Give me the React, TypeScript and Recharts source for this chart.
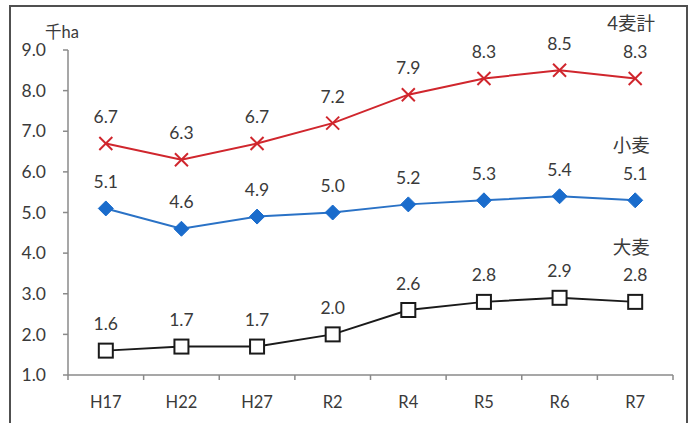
import React from 'react';
import { LineChart, Line, XAxis, YAxis, LabelList } from 'recharts';

const categories = ['H17', 'H22', 'H27', 'R2', 'R4', 'R5', 'R6', 'R7'];
const totalValues = [6.7, 6.3, 6.7, 7.2, 7.9, 8.3, 8.5, 8.3];
const wheatValues = [5.1, 4.6, 4.9, 5.0, 5.2, 5.3, 5.4, 5.3];
const wheatLabels = ['5.1', '4.6', '4.9', '5.0', '5.2', '5.3', '5.4', '5.1'];
const barleyValues = [1.6, 1.7, 1.7, 2.0, 2.6, 2.8, 2.9, 2.8];
const yTicks = [1, 2, 3, 4, 5, 6, 7, 8, 9];
const seriesNames = { total: '4麦計', wheat: '小麦', barley: '大麦' };
const unitLabel = '千ha';

const data = categories.map((c, i) => ({
  cat: c,
  total: totalValues[i],
  wheat: wheatValues[i],
  barley: barleyValues[i],
}));

const FONT = "Lato, 'Noto Sans CJK JP', sans-serif";
const TEXT = '#3a3a3a';
const RED = '#d0262d';
const BLUE = '#2a72c6';
const BLUE_MARK = '#1a6ccc';
const BLACK = '#1a1a1a';
const AXIS = '#8a8a8a';

const makeLabel = (name: string, texts?: string[]) => (props: any) => {
  const { x, y, value, index } = props;
  const last = index === categories.length - 1;
  const txt = texts ? texts[index] : Number(value).toFixed(1);
  return (
    <g>
      <text x={x} y={y - 27} textAnchor="middle" dominantBaseline="central" fontSize={17.5} fontFamily={FONT} fill={TEXT}>
        {txt}
      </text>
      {last && (
        <text x={x - 4} y={y - 55} textAnchor="middle" dominantBaseline="central" fontSize={18.5} fontFamily={FONT} fill={TEXT}>
          {name}
        </text>
      )}
    </g>
  );
};

const CrossDot = (props: any) => {
  const { cx, cy } = props;
  if (cx == null || cy == null) return null;
  const s = 6.5;
  return (
    <g>
      <line x1={cx - s} y1={cy - s} x2={cx + s} y2={cy + s} stroke={RED} strokeWidth={2} />
      <line x1={cx - s} y1={cy + s} x2={cx + s} y2={cy - s} stroke={RED} strokeWidth={2} />
    </g>
  );
};

const DiamondDot = (props: any) => {
  const { cx, cy } = props;
  if (cx == null || cy == null) return null;
  const s = 7.5;
  return <polygon points={`${cx},${cy - s} ${cx + s},${cy} ${cx},${cy + s} ${cx - s},${cy}`} fill={BLUE_MARK} stroke={BLUE_MARK} strokeWidth={1} />;
};

const SquareDot = (props: any) => {
  const { cx, cy } = props;
  if (cx == null || cy == null) return null;
  const s = 7;
  return <rect x={cx - s} y={cy - s} width={2 * s} height={2 * s} fill="#ffffff" stroke={BLACK} strokeWidth={2} />;
};

const XTick = (props: any) => {
  const { x, y, payload, index, width, visibleTicksCount } = props;
  const count = visibleTicksCount || categories.length;
  const bw = (width || 605) / count;
  const left = x - bw / 2;
  return (
    <g>
      <line x1={left} y1={y} x2={left} y2={y + 5} stroke={AXIS} strokeWidth={1.5} />
      {index === count - 1 && <line x1={x + bw / 2} y1={y} x2={x + bw / 2} y2={y + 5} stroke={AXIS} strokeWidth={1.5} />}
      <text x={x} y={y + 27} textAnchor="middle" dominantBaseline="central" fontSize={16.5} fontFamily={FONT} fill={TEXT}>
        {payload.value}
      </text>
    </g>
  );
};

export default function App() {
  return (
    <div style={{ position: 'absolute', left: 0, top: 0, width: 688, height: 423, overflow: 'hidden', background: '#fff' }}>
      <div style={{ position: 'absolute', left: 9, top: 5, width: 675, height: 440, border: '2px solid #505050' }} />
      <div style={{ position: 'absolute', left: 45, top: 21, fontFamily: FONT, fontSize: 16.5, color: TEXT, lineHeight: '22px' }}>
        {unitLabel}
      </div>
      <div style={{ position: 'absolute', left: 0, top: 0 }}>
        <LineChart width={688} height={423} data={data} margin={{ top: 50, right: 15, left: 0, bottom: 0 }}>
          <XAxis
            dataKey="cat"
            scale="band"
            height={48}
            axisLine={{ stroke: AXIS, strokeWidth: 1.5 }}
            tickLine={false}
            tickSize={0}
            tickMargin={0}
            tick={<XTick />}
            interval={0}
          />
          <YAxis
            width={68}
            domain={[1, 9]}
            ticks={yTicks}
            allowDataOverflow
            axisLine={{ stroke: AXIS, strokeWidth: 1.5 }}
            tickLine={{ stroke: AXIS, strokeWidth: 1.5 }}
            tickSize={5}
            tickMargin={17}
            tickFormatter={(v: number) => v.toFixed(1)}
            tick={{ fontSize: 17.5, fontFamily: FONT, fill: TEXT }}
          />
          <Line type="linear" dataKey="total" stroke={RED} strokeWidth={2} dot={<CrossDot />} activeDot={false} isAnimationActive={false}>
            <LabelList dataKey="total" content={makeLabel(seriesNames.total)} />
          </Line>
          <Line type="linear" dataKey="wheat" stroke={BLUE} strokeWidth={2} dot={<DiamondDot />} activeDot={false} isAnimationActive={false}>
            <LabelList dataKey="wheat" content={makeLabel(seriesNames.wheat, wheatLabels)} />
          </Line>
          <Line type="linear" dataKey="barley" stroke={BLACK} strokeWidth={2} dot={<SquareDot />} activeDot={false} isAnimationActive={false}>
            <LabelList dataKey="barley" content={makeLabel(seriesNames.barley)} />
          </Line>
        </LineChart>
      </div>
    </div>
  );
}
